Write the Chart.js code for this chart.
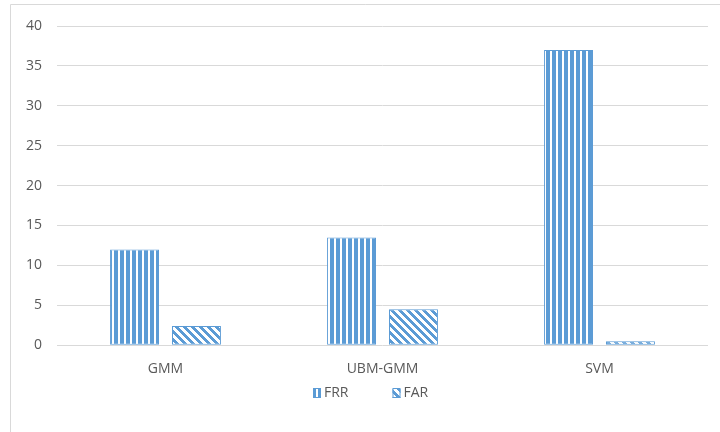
<!DOCTYPE html>
<html>
<head>
<meta charset="utf-8">
<script src="https://cdn.jsdelivr.net/npm/chart.js@4/dist/chart.umd.min.js"></script>
<style>
  html, body { margin: 0; padding: 0; background: #fff; }
  #wrap { position: relative; width: 720px; height: 432px; }
</style>
</head>
<body>
<div id="wrap"><canvas id="chart" width="720" height="432"></canvas></div>
<script>
/* ─── Data ─── */
const categories = ['GMM', 'UBM-GMM', 'SVM'];
const frrValues = [12, 13.5, 37];
const farValues = [2.4, 4.5, 0.5];
const yTicks = [0, 5, 10, 15, 20, 25, 30, 35, 40];

/* ─── Style ─── */
const BLUE = '#5b9bd5';
const GRID = '#d9d9d9';
const TEXT = '#595959';
const FONT = "'Open Sans', sans-serif";

/* ─── Fill patterns ─── */
function verticalPattern(ctx) {
  const c = document.createElement('canvas');
  c.width = 6; c.height = 6;
  const g = c.getContext('2d');
  g.fillStyle = '#fff';
  g.fillRect(0, 0, 6, 6);
  g.fillStyle = BLUE;
  g.fillRect(0, 0, 4, 6);
  return ctx.createPattern(c, 'repeat');
}

function diagonalPattern(ctx) {
  const n = 8;
  const c = document.createElement('canvas');
  c.width = n; c.height = n;
  const g = c.getContext('2d');
  g.fillStyle = '#fff';
  g.fillRect(0, 0, n, n);
  g.fillStyle = BLUE;
  for (let y = 0; y < n; y++) {
    for (let x = 0; x < n; x++) {
      if (((x - y) % n + n) % n < 4) g.fillRect(x, y, 1, 1);
    }
  }
  return ctx.createPattern(c, 'repeat');
}

/* ─── Outer frame ─── */
const framePlugin = {
  id: 'frame',
  beforeDraw(chart) {
    const ctx = chart.ctx;
    ctx.save();
    ctx.strokeStyle = GRID;
    ctx.lineWidth = 1;
    ctx.beginPath();
    ctx.moveTo(10.5, 432);
    ctx.lineTo(10.5, 4.5);
    ctx.lineTo(720, 4.5);
    ctx.stroke();
    ctx.restore();
  },
};

/* ─── Legend (drawn by hand so item gap and vertical gap can differ) ─── */
const legendPlugin = {
  id: 'patternLegend',
  afterDraw(chart) {
    const ctx = chart.ctx;
    const y = 393;
    let x = 313;
    ctx.save();
    ctx.font = `14px ${FONT}`;
    ctx.textBaseline = 'middle';
    chart.data.datasets.forEach((ds) => {
      ctx.fillStyle = ds.backgroundColor;
      ctx.fillRect(x, y - 5, 8, 10);
      ctx.strokeStyle = ds.borderColor;
      ctx.lineWidth = 1;
      ctx.strokeRect(x + 0.5, y - 4.5, 7, 9);
      ctx.fillStyle = TEXT;
      ctx.fillText(ds.label, x + 11, y);
      x += 11 + ctx.measureText(ds.label).width + 44;
    });
    ctx.restore();
  },
};

const canvas = document.getElementById('chart');
const ctx = canvas.getContext('2d');
const frrFill = verticalPattern(ctx);
const farFill = diagonalPattern(ctx);

new Chart(canvas, {
  type: 'bar',
  data: {
    labels: categories,
    datasets: [
      {
        label: 'FRR',
        data: frrValues,
        backgroundColor: frrFill,
        borderColor: BLUE,
        borderWidth: 1,
        borderSkipped: false,
      },
      {
        label: 'FAR',
        data: farValues,
        backgroundColor: farFill,
        borderColor: BLUE,
        borderWidth: 1,
        borderSkipped: false,
      },
    ],
  },
  options: {
    responsive: false,
    animation: false,
    devicePixelRatio: 1,
    categoryPercentage: 0.571,
    barPercentage: 0.79,
    layout: {
      padding: { left: 0, right: 12, top: 26, bottom: 40 },
    },
    plugins: {
      legend: { display: false },
      tooltip: { enabled: false },
    },
    scales: {
      x: {
        grid: { display: false, drawTicks: false },
        border: { display: false },
        ticks: {
          color: TEXT,
          font: { family: FONT, size: 14 },
          padding: 15,
        },
      },
      y: {
        min: 0,
        max: 40,
        afterBuildTicks: (scale) => {
          scale.ticks = yTicks.map((v) => ({ value: v }));
        },
        afterFit: (scale) => { scale.width = 57; },
        grid: { color: GRID, drawTicks: false },
        border: { display: false },
        ticks: {
          color: TEXT,
          font: { family: FONT, size: 14 },
          padding: 15,
        },
      },
    },
  },
  plugins: [framePlugin, legendPlugin],
});
</script>
</body>
</html>
